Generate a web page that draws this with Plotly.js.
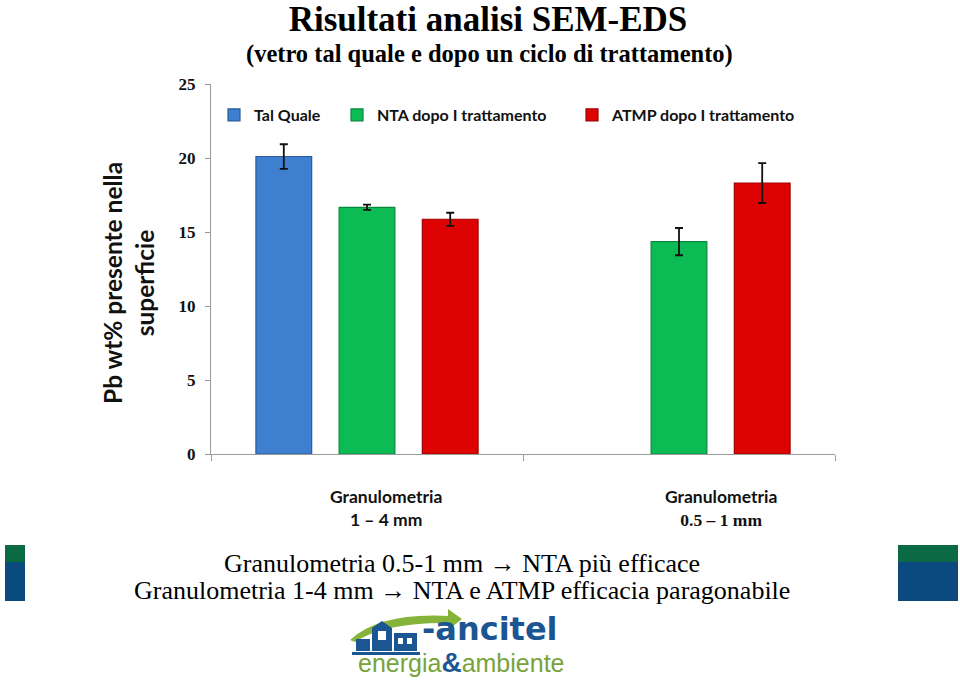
<!DOCTYPE html>
<html>
<head>
<meta charset="utf-8">
<script src="https://cdn.plot.ly/plotly-3.0.1.min.js"></script>
<style>html,body{margin:0;padding:0;background:#fff;}#chart{width:960px;height:681px;}</style>
</head>
<body>
<div id="chart"></div>
<script>
// ---- data ----
const categories = ['Granulometria 1 – 4 mm', 'Granulometria 0.5 – 1 mm'];
const seriesNames = ['Tal Quale', 'NTA dopo I trattamento', 'ATMP dopo I trattamento'];
const talQuale = [20.1, null];
const talQualeErr = [0.83, 0];
const nta = [16.67, 14.35];
const ntaErr = [0.18, 0.92];
const atmp = [15.86, 18.31];
const atmpErr = [0.44, 1.35];
const yTicks = [0, 5, 10, 15, 20, 25];
const catLabelTop = ['Granulometria', 'Granulometria'];
const catLabelBottom = ['1 – 4 mm', '0.5 – 1 mm'];
const titleText = 'Risultati analisi SEM-EDS';
const subtitleText = '(vetro tal quale e dopo un ciclo di trattamento)';
const yTitleText = 'Pb wt% presente nella<br>superficie';
const noteLines = ['Granulometria 0.5-1 mm → NTA più efficace', 'Granulometria 1-4 mm → NTA e ATMP efficacia paragonabile'];

// ---- geometry helpers (plot area: x 211..835, y 84..454 px) ----
const L = 211, R = 835, T = 84, B = 454;
const px = x => (x - L) / (R - L);
const py = y => (B - y) / (B - T);

const SANS = 'Lato, "Open Sans", sans-serif';
const SERIF = '"Liberation Serif", "DejaVu Serif", serif';

function barTrace(name, y, err, color, line, legend) {
  return {
    type: 'bar', name: name, x: categories, y: y,
    marker: {color: color, line: {color: line, width: 1.2}},
    error_y: {type: 'data', array: err, visible: true, color: '#111', thickness: 1.8, width: 4},
    legend: legend
  };
}

const data = [
  barTrace(seriesNames[0], talQuale, talQualeErr, '#3f7fd0', '#2a5a9a', 'legend'),
  barTrace(seriesNames[1], nta, ntaErr, '#0dbb55', '#078a3c', 'legend2'),
  barTrace(seriesNames[2], atmp, atmpErr, '#dd0303', '#a00000', 'legend3')
];

const legendFont = {family: SANS, size: 16, color: '#111', weight: 'bold'};
function leg(x) {
  return {x: x, y: py(115), xanchor: 'left', yanchor: 'middle', orientation: 'h',
          font: legendFont, bgcolor: 'rgba(0,0,0,0)', itemwidth: 30, borderwidth: 0};
}

const annotations = [
  {xref: 'paper', yref: 'paper', x: px(489), y: py(54), text: '<b>' + subtitleText + '</b>', showarrow: false,
   font: {family: SERIF, size: 24.5, color: '#000'}, xanchor: 'center', yanchor: 'middle'},
  {xref: 'paper', yref: 'paper', x: px(128), y: py(283), text: '<b>' + yTitleText + '</b>', showarrow: false,
   textangle: -90, font: {family: SANS, size: 24.5, color: '#111'}, xanchor: 'center', yanchor: 'middle'},
  {xref: 'paper', yref: 'paper', x: px(386), y: py(508),
   text: '<b>' + catLabelTop[0] + '<br>' + catLabelBottom[0] + '</b>', showarrow: false,
   font: {family: SANS, size: 17.5, color: '#111'}, xanchor: 'center', yanchor: 'middle'},
  {xref: 'paper', yref: 'paper', x: px(721), y: py(508),
   text: '<b>' + catLabelTop[1] + '<br><span style="font-family:Liberation Serif">' + catLabelBottom[1] + '</span></b>', showarrow: false,
   font: {family: SANS, size: 17.5, color: '#111'}, xanchor: 'center', yanchor: 'middle'},
  {xref: 'paper', yref: 'paper', x: px(462), y: py(563), text: noteLines[0], showarrow: false,
   font: {family: SERIF, size: 26, color: '#000'}, xanchor: 'center', yanchor: 'middle'},
  {xref: 'paper', yref: 'paper', x: px(462), y: py(590), text: noteLines[1], showarrow: false,
   font: {family: SERIF, size: 26, color: '#000'}, xanchor: 'center', yanchor: 'middle'},
  // logo texts
  {xref: 'paper', yref: 'paper', x: px(420), y: py(608), text: '<b>-ancitel</b>', showarrow: false,
   font: {family: '"DejaVu Sans", sans-serif', size: 32, color: '#1b5592'}, xanchor: 'left', yanchor: 'top'},
  {xref: 'paper', yref: 'paper', x: px(461), y: py(680),
   text: 'energia<span style="color:#1b5592;font-size:28px"><b>&amp;</b></span>ambiente', showarrow: false,
   font: {family: '"Liberation Sans", Arial, sans-serif', size: 25, color: '#77a33a'}, xanchor: 'center', yanchor: 'bottom'}
];

const shapes = [
  // side decorations
  {type: 'rect', xref: 'paper', yref: 'paper', x0: px(5), x1: px(25), y0: py(562), y1: py(545), fillcolor: '#0b6a44', line: {width: 0}, layer: 'above'},
  {type: 'rect', xref: 'paper', yref: 'paper', x0: px(5), x1: px(25), y0: py(601), y1: py(562), fillcolor: '#0a4a7e', line: {width: 0}, layer: 'above'},
  {type: 'rect', xref: 'paper', yref: 'paper', x0: px(898), x1: px(958), y0: py(562), y1: py(545), fillcolor: '#0b6a44', line: {width: 0}, layer: 'above'},
  {type: 'rect', xref: 'paper', yref: 'paper', x0: px(898), x1: px(958), y0: py(601), y1: py(562), fillcolor: '#0a4a7e', line: {width: 0}, layer: 'above'},
  // logo arc
  {type: 'path', xref: 'paper', yref: 'paper',
   path: 'M ' + px(350) + ',' + py(640) + ' Q ' + px(380) + ',' + py(612) + ' ' + px(450) + ',' + py(616) +
         ' L ' + px(450) + ',' + py(623) + ' Q ' + px(385) + ',' + py(622) + ' ' + px(355) + ',' + py(642) + ' Z',
   fillcolor: '#86b43a', line: {width: 0}},
  {type: 'path', xref: 'paper', yref: 'paper',
   path: 'M ' + px(448) + ',' + py(609) + ' L ' + px(462) + ',' + py(619) + ' L ' + px(448) + ',' + py(630) + ' Z',
   fillcolor: '#86b43a', line: {width: 0}},
  // logo buildings
  {type: 'rect', xref: 'paper', yref: 'paper', x0: px(356), x1: px(370), y0: py(651), y1: py(639), fillcolor: '#1b5592', line: {width: 0}},
  {type: 'path', xref: 'paper', yref: 'paper',
   path: 'M ' + px(372) + ',' + py(651) + ' L ' + px(372) + ',' + py(628) + ' L ' + px(382) + ',' + py(621) + ' L ' + px(392) + ',' + py(628) + ' L ' + px(392) + ',' + py(651) + ' Z',
   fillcolor: '#1b5592', line: {width: 0}},
  {type: 'rect', xref: 'paper', yref: 'paper', x0: px(394), x1: px(417), y0: py(651), y1: py(633), fillcolor: '#1b5592', line: {width: 0}},
  {type: 'rect', xref: 'paper', yref: 'paper', x0: px(398), x1: px(403), y0: py(644), y1: py(638), fillcolor: '#ffffff', line: {width: 0}},
  {type: 'rect', xref: 'paper', yref: 'paper', x0: px(407), x1: px(412), y0: py(644), y1: py(638), fillcolor: '#ffffff', line: {width: 0}},
  {type: 'rect', xref: 'paper', yref: 'paper', x0: px(378), x1: px(386), y0: py(640), y1: py(631), fillcolor: '#ffffff', line: {width: 0}},
  {type: 'rect', xref: 'paper', yref: 'paper', x0: px(352), x1: px(420), y0: py(655), y1: py(652), fillcolor: '#1b5592', line: {width: 0}}
];

const layout = {
  width: 960, height: 681,
  paper_bgcolor: '#fff', plot_bgcolor: '#fff',
  margin: {l: L, r: 960 - R, t: T, b: 681 - B, pad: 0},
  title: {text: '<b>' + titleText + '</b>', x: px(488), xref: 'paper', xanchor: 'center', y: 1 - 19 / 681, yanchor: 'middle',
          pad: {t: 0, b: 0}, font: {family: SERIF, size: 35, color: '#000'}},
  barmode: 'group', bargap: 0.2, bargroupgap: 0.33,
  showlegend: true,
  legend: leg(px(214)),
  legend2: leg(px(337)),
  legend3: leg(px(572)),
  xaxis: {type: 'category', showticklabels: false, ticks: 'outside', tickson: 'boundaries', ticklen: 6,
          tickcolor: '#9a9a9a', showline: true, linecolor: '#9a9a9a', linewidth: 1.2, showgrid: false, zeroline: false,
          fixedrange: true},
  yaxis: {range: [0, 25], tickvals: yTicks, ticktext: yTicks.map(v => '<b>' + v + '</b>'), ticks: 'outside', ticklen: 5,
          ticklabelstandoff: 6,
          tickcolor: '#9a9a9a', showline: true, linecolor: '#9a9a9a', linewidth: 1.2, showgrid: false, zeroline: false,
          tickfont: {family: SERIF, size: 17, color: '#111'}},
  annotations: annotations,
  shapes: shapes
};

Plotly.newPlot('chart', data, layout, {displayModeBar: false, staticPlot: true});
</script>
</body>
</html>
